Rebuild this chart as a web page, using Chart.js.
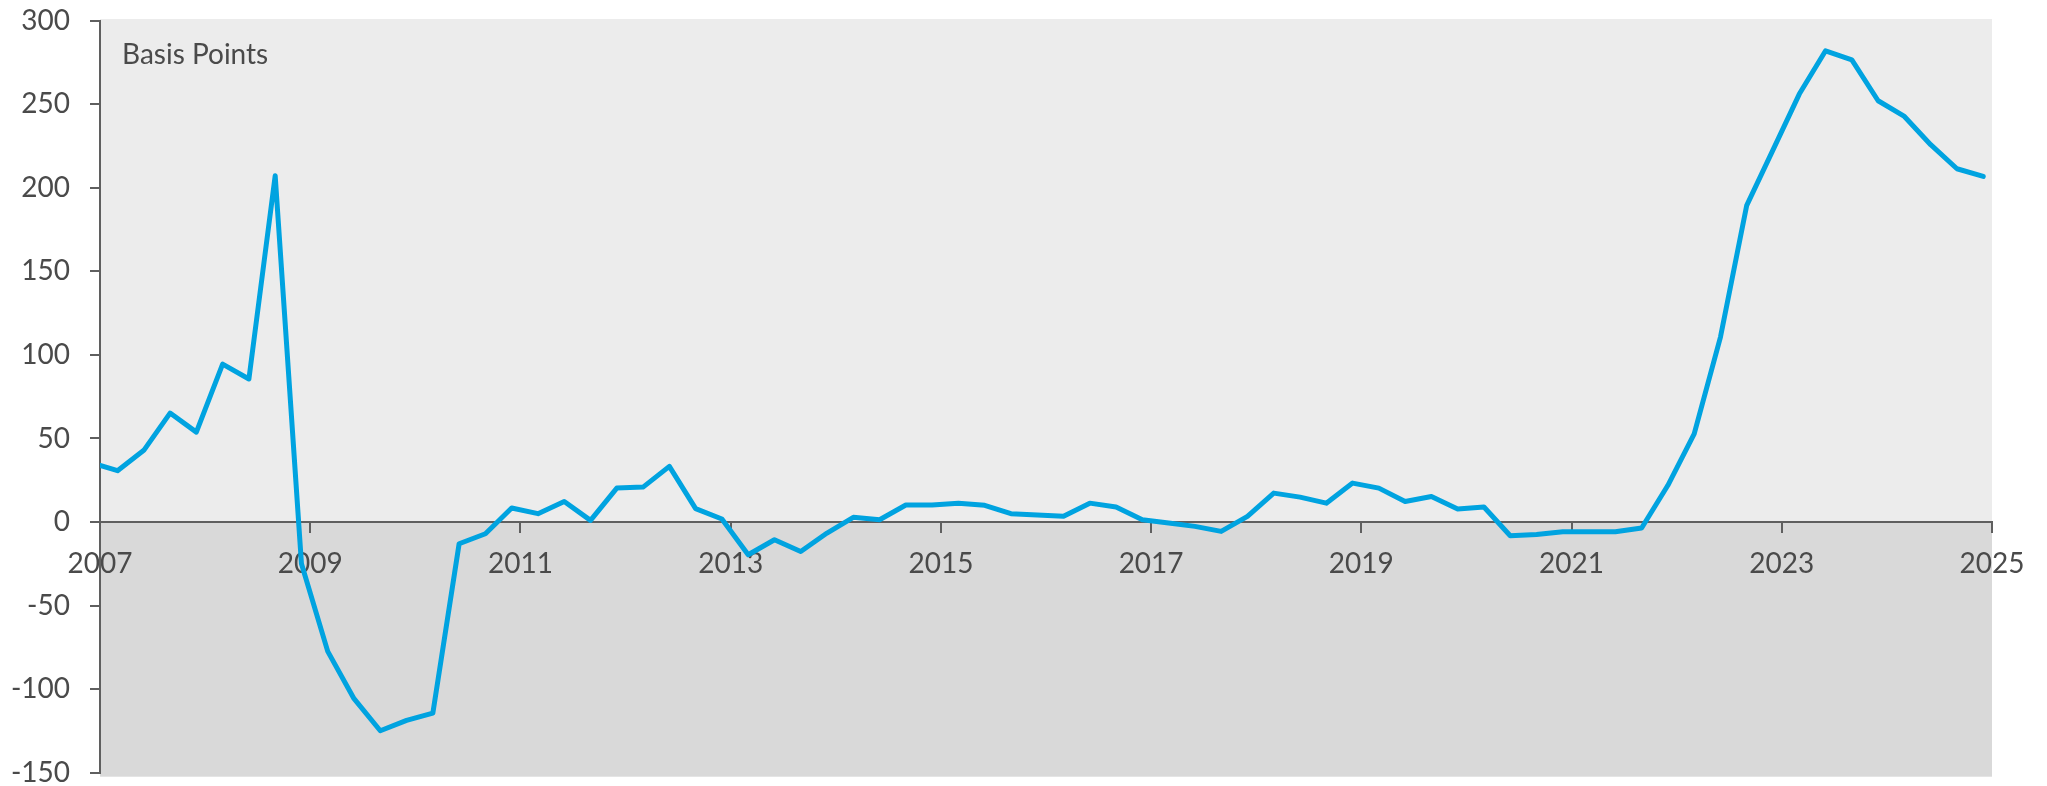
<!DOCTYPE html>
<html>
<head>
<meta charset="utf-8">
<script src="https://cdn.jsdelivr.net/npm/chart.js@4"></script>
<style>
  html, body { margin: 0; padding: 0; background: #ffffff; }
  canvas { display: block; }
</style>
</head>
<body>
<canvas id="c" width="2047" height="786"></canvas>
<script>
// Quarter-end months (Mar, Jun, Sep, Dec); the Dec 2006 point is clipped at the 2007 axis
const quarters = [
  "2006-12",
  "2007-03","2007-06","2007-09","2007-12",
  "2008-03","2008-06","2008-09","2008-12",
  "2009-03","2009-06","2009-09","2009-12",
  "2010-03","2010-06","2010-09","2010-12",
  "2011-03","2011-06","2011-09","2011-12",
  "2012-03","2012-06","2012-09","2012-12",
  "2013-03","2013-06","2013-09","2013-12",
  "2014-03","2014-06","2014-09","2014-12",
  "2015-03","2015-06","2015-09","2015-12",
  "2016-03","2016-06","2016-09","2016-12",
  "2017-03","2017-06","2017-09","2017-12",
  "2018-03","2018-06","2018-09","2018-12",
  "2019-03","2019-06","2019-09","2019-12",
  "2020-03","2020-06","2020-09","2020-12",
  "2021-03","2021-06","2021-09","2021-12",
  "2022-03","2022-06","2022-09","2022-12",
  "2023-03","2023-06","2023-09","2023-12",
  "2024-03","2024-06","2024-09","2024-12"
];

const basisPoints = [
  35.5,
  30.7, 42.9, 65.2, 53.8,
  94.5, 85.6, 207.2, -25,
  -77.4, -105.7, -124.9, -118.7,
  -114.3, -13.0, -7.0, 8.4,
  5.0, 12.3, 1.0, 20.3,
  20.9, 33.3, 8.0, 1.8,
  -19.6, -10.6, -17.6, -6.6,
  2.8, 1.4, 10.2, 10.2,
  11.3, 10.0, 5.0, 4.2,
  3.4, 11.3, 9.0, 1.4,
  -0.6, -2.6, -5.6, 3.4,
  17.3, 14.9, 11.3, 23.3,
  20.3, 12.3, 15.3, 7.8,
  9.0, -8.2, -7.4, -5.8,
  -5.8, -5.8, -3.6, 22.0,
  52.8, 110.7, 189.5, 222.7,
  256.1, 282.0, 276.6, 252.1,
  242.7, 225.8, 211.4, 206.8
];

const yTicks = [-150, -100, -50, 0, 50, 100, 150, 200, 250, 300];
const xTickYears = [2007, 2009, 2011, 2013, 2015, 2017, 2019, 2021, 2023, 2025];
const unitLabel = "Basis Points";

function toYear(q) {
  const [y, m] = q.split("-").map(Number);
  return y + (m - 1) / 12;
}

const points = quarters.map((q, i) => ({ x: toYear(q), y: basisPoints[i] }));

const textColor = "#4a4a4a";
const axisColor = "#5f5f5f";
const fontFamily = "Lato, 'Open Sans', sans-serif";

const bandPlugin = {
  id: "bands",
  beforeDraw(chart) {
    const { ctx, chartArea } = chart;
    const y0 = chart.scales.y.getPixelForValue(0);
    ctx.save();
    ctx.fillStyle = "#ececec";
    ctx.fillRect(chartArea.left, chartArea.top - 1.7, chartArea.right - chartArea.left, y0 - chartArea.top + 1.7);
    ctx.fillStyle = "#d9d9d9";
    ctx.fillRect(chartArea.left, y0, chartArea.right - chartArea.left, chartArea.bottom + 4 - y0);
    ctx.fillStyle = textColor;
    ctx.font = "28px " + fontFamily;
    ctx.textAlign = "left";
    ctx.textBaseline = "alphabetic";
    ctx.fillText(unitLabel, chartArea.left + 22, 63.5);
    ctx.restore();
  }
};

new Chart(document.getElementById("c"), {
  type: "line",
  data: {
    datasets: [{
      data: points,
      borderColor: "#00a3e0",
      borderWidth: 5,
      pointRadius: 0,
      pointHoverRadius: 0,
      tension: 0,
      fill: false,
      clip: 0,
      borderCapStyle: "round",
      borderJoinStyle: "round"
    }]
  },
  options: {
    responsive: false,
    animation: false,
    devicePixelRatio: 1,
    layout: { padding: { left: 0, right: 55, top: 20.7, bottom: 13.3 } },
    plugins: { legend: { display: false }, tooltip: { enabled: false }, title: { display: false } },
    scales: {
      x: {
        type: "linear",
        min: xTickYears[0],
        max: xTickYears[xTickYears.length - 1],
        position: { y: 0 },
        afterBuildTicks(scale) {
          scale.ticks = xTickYears.map(v => ({ value: v }));
        },
        ticks: {
          color: textColor,
          font: { family: fontFamily, size: 28 },
          padding: 15,
          maxRotation: 0,
          autoSkip: false,
          callback: v => String(v)
        },
        grid: { drawOnChartArea: false, drawTicks: true, tickLength: 10, color: axisColor, lineWidth: 2 },
        border: { display: true, color: axisColor, width: 2 }
      },
      y: {
        min: yTicks[0],
        max: yTicks[yTicks.length - 1],
        afterBuildTicks(scale) {
          scale.ticks = yTicks.map(v => ({ value: v }));
        },
        afterFit(scale) {
          scale.width = 100;
          scale.paddingTop = 0;
          scale.paddingBottom = 0;
        },
        ticks: {
          color: textColor,
          font: { family: fontFamily, size: 28 },
          padding: 20,
          callback: v => String(v)
        },
        grid: { drawOnChartArea: false, drawTicks: true, tickLength: 10, color: axisColor, lineWidth: 2 },
        border: { display: true, color: axisColor, width: 2 }
      }
    }
  },
  plugins: [bandPlugin]
});
</script>
</body>
</html>
